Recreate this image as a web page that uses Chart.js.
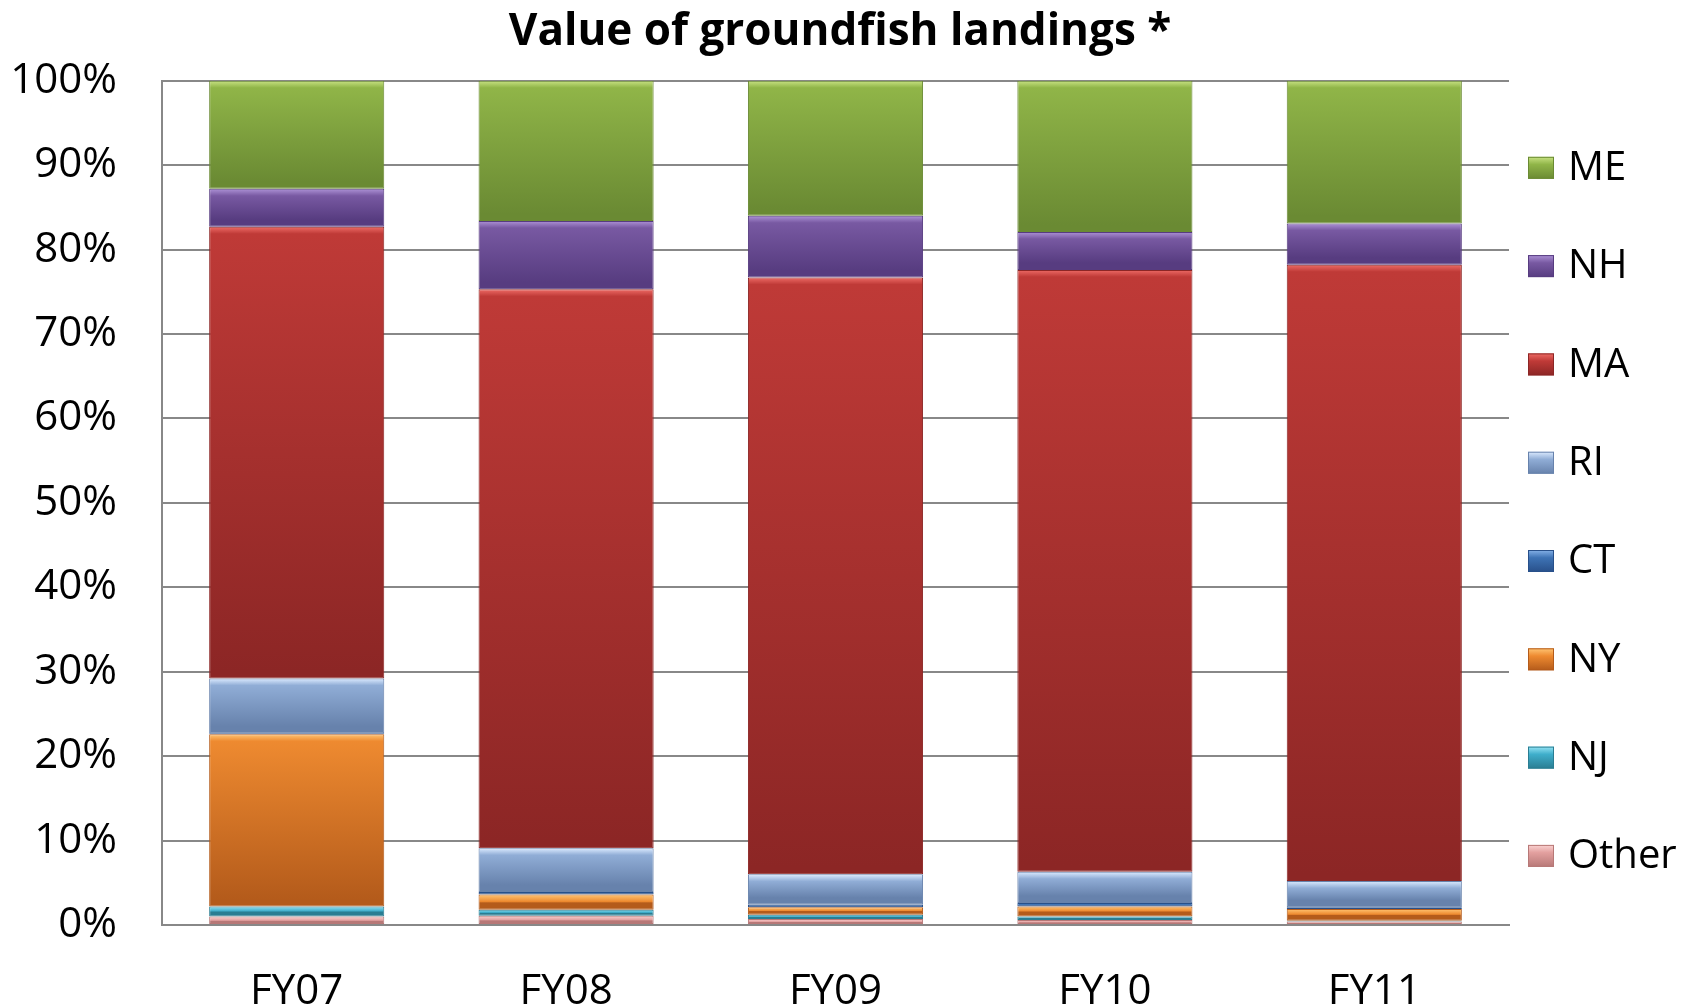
<!DOCTYPE html>
<html>
<head>
<meta charset="utf-8">
<title>Value of groundfish landings</title>
<style>
body { margin: 0; background: white; }
#wrap { width: 1696px; height: 1008px; }
</style>
</head>
<body>
<div id="wrap"><canvas id="landings" width="1696" height="1008"></canvas></div>
<script src="https://cdn.jsdelivr.net/npm/chart.js@4"></script>
<script>
// share of value (%) by state, bottom of stack first
var years = ['FY07', 'FY08', 'FY09', 'FY10', 'FY11'];
var other = [1.0, 1.1, 0.7, 0.6, 0.4];
var nj = [1.2, 0.7, 0.5, 0.4, 0.1];
var ny = [20.4, 1.8, 0.9, 1.2, 1.4];
var ct = [0.1, 0.3, 0.3, 0.4, 0.2];
var ri = [6.5, 5.2, 3.6, 3.7, 3.1];
var ma = [53.5, 66.2, 70.7, 71.3, 73.0];
var nh = [4.5, 8.1, 7.3, 4.5, 4.9];
var me = [12.8, 16.6, 16.0, 17.9, 16.9];

// base / highlight / shade for the bevelled look
var shades = {
	'Other': ['#E3A09F', '#FAD3D2', '#B77877'],
	'NJ': ['#3FAECB', '#96E4F5', '#2A7D92'],
	'NY': ['#EE8A30', '#FFC574', '#B45B1B'],
	'CT': ['#3E73B5', '#86B2E8', '#28508A'],
	'RI': ['#90ADD6', '#DCEBFF', '#6782AC'],
	'MA': ['#BF3A37', '#EE6B66', '#8C2625'],
	'NH': ['#7859A2', '#AD92D6', '#573C80'],
	'ME': ['#90B548', '#C8E283', '#6A8A33']
};

function segFill(context) {
	var chart = context.chart;
	var ds = chart.data.datasets[context.datasetIndex];
	var c = shades[ds.label];
	if (!chart.chartArea || context.type !== 'data') return c[0];
	var i = context.dataIndex;
	var start = 0;
	for (var k = 0; k < context.datasetIndex; k++) {
		start += chart.data.datasets[k].data[i];
	}
	var end = start + ds.data[i];
	var y = chart.scales.y;
	var top = y.getPixelForValue(end);
	var bot = y.getPixelForValue(start);
	var h = Math.max(bot - top, 1);
	var g = chart.ctx.createLinearGradient(0, top, 0, bot);
	var t = Math.min(0.45, 7 / h);
	g.addColorStop(0, c[1]);
	g.addColorStop(t, c[0]);
	g.addColorStop(Math.max(t, 1 - t), c[2]);
	g.addColorStop(1, c[2]);
	return g;
}

function edgeColor(context) {
	return shades[context.chart.data.datasets[context.datasetIndex].label][2];
}

var seriesList = [
	['Other', other], ['NJ', nj], ['NY', ny], ['CT', ct],
	['RI', ri], ['MA', ma], ['NH', nh], ['ME', me]
];

var datasets = seriesList.map(function (s) {
	return {
		label: s[0],
		data: s[1],
		backgroundColor: segFill,
		borderColor: edgeColor,
		borderWidth: 1,
		borderSkipped: false,
		categoryPercentage: 1.0,
		barPercentage: 0.65
	};
});

// legend drawn to the right of the plot, ME on top
var sideLegend = {
	id: 'sideLegend',
	afterDraw: function (chart) {
		var ctx = chart.ctx;
		var area = chart.chartArea;
		var items = chart.data.datasets.slice().reverse();
		ctx.save();
		ctx.font = '40px "Open Sans", sans-serif';
		ctx.textBaseline = 'middle';
		ctx.textAlign = 'left';
		items.forEach(function (ds, n) {
			var c = shades[ds.label];
			var cy = area.top + 87 + n * 98.3;
			var bx = area.right + 19;
			var g = ctx.createLinearGradient(0, cy - 11, 0, cy + 11);
			g.addColorStop(0, c[1]);
			g.addColorStop(0.35, c[0]);
			g.addColorStop(1, c[2]);
			ctx.fillStyle = g;
			ctx.fillRect(bx, cy - 11, 26, 22);
			ctx.strokeStyle = c[2];
			ctx.lineWidth = 1;
			ctx.strokeRect(bx + 0.5, cy - 10.5, 25, 21);
			ctx.fillStyle = '#000';
			ctx.fillText(ds.label, bx + 40, cy + 1);
		});
		ctx.restore();
	}
};

var chart = new Chart(document.getElementById('landings').getContext('2d'), {
	type: 'bar',
	data: { labels: years, datasets: datasets },
	plugins: [sideLegend],
	options: {
		responsive: false,
		animation: false,
		devicePixelRatio: 1,
		layout: { padding: { left: 0, right: 16, top: 0, bottom: 0 } },
		plugins: {
			legend: { display: false },
			tooltip: { enabled: false },
			title: {
				display: true,
				text: 'Value of groundfish landings *',
				color: '#000',
				font: { family: '"Open Sans", sans-serif', size: 44, weight: 'bold', lineHeight: 1.2 },
				padding: { top: 6, bottom: 22 }
			}
		},
		scales: {
			x: {
				stacked: true,
				grid: { display: false },
				border: { display: true, color: '#888888', width: 2 },
				ticks: {
					color: '#000',
					padding: 38,
					font: { family: '"Open Sans", sans-serif', size: 42, lineHeight: 1.0 }
				},
				afterFit: function (scale) { scale.height = 83; }
			},
			y: {
				stacked: true,
				min: 0,
				max: 100,
				grid: { color: '#888888', lineWidth: 2, drawTicks: false },
				border: { display: true, color: '#888888', width: 2 },
				ticks: {
					stepSize: 10,
					color: '#000',
					padding: 45,
					font: { family: '"Open Sans", sans-serif', size: 42 },
					callback: function (v) { return v + '%'; }
				},
				afterFit: function (scale) { scale.width = 162; }
			},
			// empty right-hand strip that holds the legend
			side: {
				position: 'right',
				display: true,
				grid: { display: false },
				border: { display: false },
				ticks: { display: false },
				afterFit: function (scale) { scale.width = 171; }
			}
		}
	}
});
</script>
</body>
</html>
